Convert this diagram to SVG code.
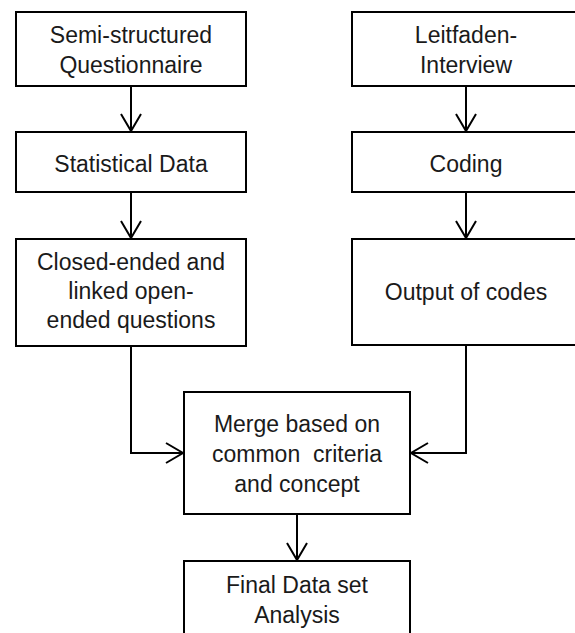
<svg xmlns="http://www.w3.org/2000/svg" width="575" height="633" viewBox="0 0 575 633">
  <style>
    .box { fill: #ffffff; stroke: #000000; stroke-width: 2; }
    .lbl { font-family: "Liberation Sans", Arial, sans-serif; font-size: 23px; fill: #1a1a1a; text-anchor: middle; }
    .wire { fill: none; stroke: #000000; stroke-width: 2; }
  </style>
  <defs>
    <marker id="vhead" markerUnits="userSpaceOnUse" viewBox="-20 -12 22 24" markerWidth="22" markerHeight="24" refX="0" refY="0" orient="auto">
      <path d="M-17,-10 L0,0 L-17,10" fill="none" stroke="#000000" stroke-width="2"/>
    </marker>
  </defs>
  <rect width="575" height="633" fill="#ffffff"/>

  <!-- left column -->
  <g id="questionnaire">
    <rect class="box" x="16" y="12" width="230" height="74"/>
    <text class="lbl" x="131" y="43">Semi-structured</text>
    <text class="lbl" x="131" y="73">Questionnaire</text>
  </g>
  <g id="statistical-data">
    <rect class="box" x="16" y="132" width="230" height="60"/>
    <text class="lbl" x="131" y="172">Statistical Data</text>
  </g>
  <g id="closed-ended">
    <rect class="box" x="16" y="239" width="230" height="107"/>
    <text class="lbl" x="131" y="270">Closed-ended and</text>
    <text class="lbl" x="131" y="299">linked open-</text>
    <text class="lbl" x="131" y="328">ended questions</text>
  </g>

  <!-- right column -->
  <g id="interview">
    <rect class="box" x="352" y="12" width="230" height="74"/>
    <text class="lbl" x="466" y="43">Leitfaden-</text>
    <text class="lbl" x="466" y="73">Interview</text>
  </g>
  <g id="coding">
    <rect class="box" x="352" y="132" width="230" height="60"/>
    <text class="lbl" x="466" y="172">Coding</text>
  </g>
  <g id="output-codes">
    <rect class="box" x="352" y="239" width="230" height="106"/>
    <text class="lbl" x="466" y="300">Output of codes</text>
  </g>

  <!-- merge and result -->
  <g id="merge">
    <rect class="box" x="184" y="392" width="226" height="122"/>
    <text class="lbl" x="297" y="432">Merge based on</text>
    <text class="lbl" x="297" y="462" xml:space="preserve">common  criteria</text>
    <text class="lbl" x="297" y="492">and concept</text>
  </g>
  <g id="final">
    <rect class="box" x="184" y="561" width="226" height="90"/>
    <text class="lbl" x="297" y="593">Final Data set</text>
    <text class="lbl" x="297" y="623">Analysis</text>
  </g>

  <g id="connectors">
    <path class="wire" d="M131,86 V131" marker-end="url(#vhead)"/>
    <path class="wire" d="M131,192 V238" marker-end="url(#vhead)"/>
    <path class="wire" d="M466,86 V131" marker-end="url(#vhead)"/>
    <path class="wire" d="M466,192 V238" marker-end="url(#vhead)"/>
    <path class="wire" d="M131,346 V453 H183" marker-end="url(#vhead)"/>
    <path class="wire" d="M466,345 V453 H411" marker-end="url(#vhead)"/>
    <path class="wire" d="M297,514 V560" marker-end="url(#vhead)"/>
  </g>
</svg>
